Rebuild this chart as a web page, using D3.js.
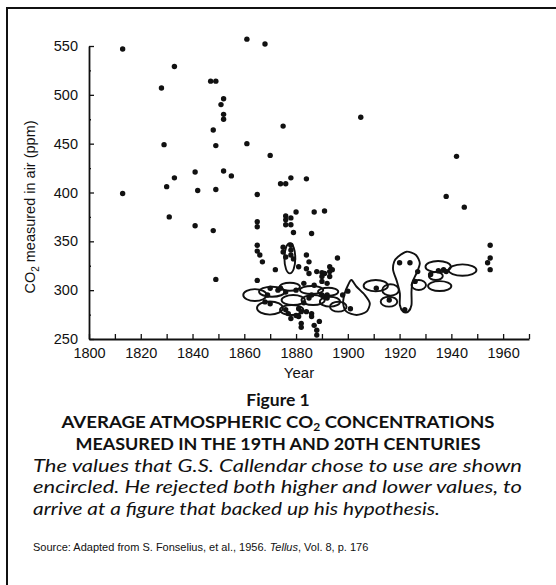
<!DOCTYPE html>
<html>
<head>
<meta charset="utf-8">
<script src="https://d3js.org/d3.v7.min.js"></script>
<style>
body { margin:0; background:#fff; }
svg { display:block; }
.axis text { font-family:"Liberation Sans", Arial, sans-serif; font-size:14.5px; fill:#111; }
.axis path, .axis line { stroke:#111; }
.cap { font-family:Lato, "Open Sans", sans-serif; fill:#111; }
</style>
</head>
<body>
<svg id="chart" width="556" height="585"></svg>
<script>
var yearTicks = [1800, 1820, 1840, 1860, 1880, 1900, 1920, 1940, 1960];
var ppmTicks = [250, 300, 350, 400, 450, 500, 550];

// [year, ppm] values Callendar rejected
var rejected = [
  [1813,547],[1833,529],[1847,514],[1849,514],[1828,507],[1852,496],[1851,490],[1852,480],[1852,475],
  [1848,464],[1829,449],[1849,448],[1841,421],[1833,415],[1830,406],[1842,402],[1849,403],[1813,399],
  [1861,557],[1868,552],[1875,468],[1861,450],[1870,438],[1852,422],[1855,417],[1874,409],[1876,409],
  [1878,415],[1884,414],[1865,398],[1831,375],[1841,366],[1848,361],[1849,311],
  [1880,380],[1887,380],[1891,381],[1876,376],[1876,372],[1876,367],[1878,374],[1878,367],[1879,359],
  [1865,370],[1865,365],[1886,358],[1865,346],[1865,340],[1866,336],[1867,329],[1875,344],[1875,339],
  [1876,334],[1878,346],[1878,341],[1878,336],[1879,332],[1884,336],[1885,329],[1884,322],[1885,317],
  [1872,321],[1881,324],[1896,333],[1893,324],[1893,319],[1893,314],[1894,321],[1888,319],[1890,318],
  [1891,317],[1890,314],[1890,309],[1865,310],[1892,307],[1889,268],[1887,264],[1888,259],[1888,254],
  [1905,477],[1942,437],[1938,396],[1945,385],[1955,346],[1955,333],[1954,328],[1955,321]
];

// [year, ppm] values inside the drawn loops
var chosen = [
  [1869,295],[1868,288],[1870,286],[1873,300],[1874,302],[1876,298],[1880,300],
  [1876,280],[1877,276],[1878,271],[1880,274],[1881,281],[1882,278],[1881,273],[1883,287],[1885,292],
  [1886,295],[1882,266],[1882,262],[1884,278],[1886,276],[1886,273],
  [1870,302],[1883,307],[1887,305],[1890,295],[1891,293],[1892,295],[1892,292],[1898,295],
  [1911,302],[1916,290],[1920,328],[1924,328],[1927,319],[1922,280],[1900,299],[1901,281],[1926,309],
  [1935,320],[1937,321],[1932,316],[1938,319]
];

// loops: [year, ppm, half width in years, half height in ppm]
var loops = [
  [1864.1,295,4.5,6.1],[1870.7,298.4,5.0,5.1],[1869.9,281.7,5.0,6.7],[1877.6,303.5,3.9,4.1],
  [1878.9,289.9,4.5,5.1],[1878.3,279.7,4.5,5.1],[1886,300.2,4.5,4.1],[1886.6,289.9,4.5,5.1],
  [1892.4,298.4,3.9,4.1],[1893.1,288.2,3.9,5.1],[1896.3,283.1,3.2,5.1],[1877.6,332.6,2.1,15.4],
  [1910.8,304.6,4.7,5.8],[1916.5,300.2,3.2,5.8],[1915.9,288.2,3.2,5.1],[1927.4,305.3,2.8,5.1],
  [1934.9,324,4.9,5.8],[1934,314.5,2.7,4.1],[1935.5,304.2,4.5,5.1],[1944.3,320.6,5.4,5.8]
];

// two hand drawn outlines that are not plain ovals
var pear = [[1901.4,310.4],[1903.4,303.5],[1906.6,295],[1908.5,286.5],[1907.2,278],[1903.4,274.6],
  [1899.5,278],[1898.2,286.5],[1898.8,296.8],[1900.1,305.3]];
var balloon = [[1919.4,334.2],[1922.7,339.4],[1926.3,336],[1927.8,327.5],[1926.5,317.2],[1925,308.6],
  [1924.6,298.4],[1924.6,284.8],[1923.3,277.9],[1921.4,277.9],[1920.1,284.8],[1920.1,296.8],
  [1919,308.6],[1917.5,320.6],[1917.9,329.1]];

var captionTitle = "Figure 1";
var captionHead = ["AVERAGE ATMOSPHERIC CO", "2", " CONCENTRATIONS"];
var captionHead2 = "MEASURED IN THE 19TH AND 20TH CENTURIES";
var captionBody = ["The values that G.S. Callendar chose to use are shown",
  "encircled. He rejected both higher and lower values, to",
  "arrive at a figure that backed up his hypothesis."];
var bodyWidths = [489, 489, 407];

var svg = d3.select("#chart");

var x = d3.scaleLinear().domain([1800, 1970]).range([89, 529]);
var y = d3.scaleLinear().domain([250, 550]).range([339, 46]);

// frame (top and left edges only, as in the scan)
svg.append("path")
  .attr("d", "M7,585V8H556")
  .attr("fill", "none")
  .attr("stroke", "#111")
  .attr("stroke-width", 2);

var xAxis = d3.axisBottom(x)
  .tickValues(d3.range(1800, 1971, 10))
  .tickSize(-5)
  .tickSizeOuter(0)
  .tickPadding(9)
  .tickFormat(function(d){ return yearTicks.indexOf(d) >= 0 ? d : ""; });

var gx = svg.append("g")
  .attr("class", "axis")
  .attr("transform", "translate(0," + y(250) + ")")
  .call(xAxis);
gx.select(".domain").attr("stroke-width", 1.8);
gx.selectAll(".tick line").attr("stroke-width", 1.3);

var yAxis = d3.axisLeft(y)
  .tickValues(d3.range(250, 551, 25))
  .tickSize(-4)
  .tickSizeOuter(0)
  .tickPadding(11)
  .tickFormat(function(d){ return ppmTicks.indexOf(d) >= 0 ? d : ""; });

var gy = svg.append("g")
  .attr("class", "axis")
  .attr("transform", "translate(" + x(1800) + ",0)")
  .call(yAxis);
gy.select(".domain").attr("stroke-width", 1.8);
gy.selectAll(".tick line")
  .attr("stroke-width", 1.3)
  .attr("x2", function(d){ return ppmTicks.indexOf(d) >= 0 ? 5 : 2; });

svg.append("text")
  .attr("x", 299)
  .attr("y", 378)
  .attr("text-anchor", "middle")
  .attr("fill", "#111")
  .style("font-family", "'Liberation Sans', Arial, sans-serif")
  .style("font-size", "15px")
  .text("Year");

var ylab = svg.append("text")
  .attr("transform", "translate(35,207) rotate(-90)")
  .attr("text-anchor", "middle")
  .style("font-family", "'Liberation Sans', Arial, sans-serif")
  .style("font-size", "14.5px")
  .attr("fill", "#111");
ylab.append("tspan").text("CO");
ylab.append("tspan").attr("dy", 4).style("font-size", "10px").text("2");
ylab.append("tspan").attr("dy", -4).text(" measured in air (ppm)");

// loops
var line = d3.line()
  .x(function(d){ return x(d[0]); })
  .y(function(d){ return y(d[1]); })
  .curve(d3.curveCardinalClosed.tension(0.2));

svg.append("g").selectAll("ellipse")
  .data(loops).enter().append("ellipse")
  .attr("cx", function(d){ return x(d[0]); })
  .attr("cy", function(d){ return y(d[1]); })
  .attr("rx", function(d){ return x(d[0] + d[2]) - x(d[0]); })
  .attr("ry", function(d){ return y(d[1] - d[3]) - y(d[1]); })
  .attr("fill", "none")
  .attr("stroke", "#111")
  .attr("stroke-width", 1.9);

svg.append("g").selectAll("path")
  .data([pear, balloon]).enter().append("path")
  .attr("d", line)
  .attr("fill", "none")
  .attr("stroke", "#111")
  .attr("stroke-width", 1.9);

svg.append("g").selectAll("circle")
  .data(rejected.concat(chosen)).enter().append("circle")
  .attr("cx", function(d){ return x(d[0]); })
  .attr("cy", function(d){ return y(d[1]); })
  .attr("r", 2.7)
  .attr("fill", "#111");

// caption
svg.append("text")
  .attr("class", "cap")
  .attr("x", 278).attr("y", 406)
  .attr("text-anchor", "middle")
  .style("font-size", "17.5px").style("font-weight", "bold")
  .text(captionTitle);

var head = svg.append("text")
  .attr("class", "cap")
  .attr("x", 278).attr("y", 428)
  .attr("text-anchor", "middle")
  .attr("textLength", 433)
  .attr("lengthAdjust", "spacingAndGlyphs")
  .style("font-size", "17px").style("font-weight", "bold");
head.append("tspan").text(captionHead[0]);
head.append("tspan").attr("dy", 3).style("font-size", "11px").text(captionHead[1]);
head.append("tspan").attr("dy", -3).text(captionHead[2]);

svg.append("text")
  .attr("class", "cap")
  .attr("x", 278).attr("y", 450)
  .attr("text-anchor", "middle")
  .attr("textLength", 405)
  .attr("lengthAdjust", "spacingAndGlyphs")
  .style("font-size", "17px").style("font-weight", "bold")
  .text(captionHead2);

svg.selectAll(".body")
  .data(captionBody).enter().append("text")
  .attr("class", "cap body")
  .attr("x", 33)
  .attr("y", function(d, i){ return 471.5 + i * 21.5; })
  .attr("textLength", function(d, i){ return bodyWidths[i]; })
  .attr("lengthAdjust", "spacingAndGlyphs")
  .style("font-size", "17.5px").style("font-style", "italic")
  .text(function(d){ return d; });

var src = svg.append("text")
  .attr("x", 33).attr("y", 551)
  .style("font-family", "'Liberation Sans', Arial, sans-serif")
  .style("font-size", "11px")
  .attr("fill", "#111");
src.append("tspan").text("Source: Adapted from S. Fonselius, et al., 1956. ");
src.append("tspan").style("font-style", "italic").text("Tellus");
src.append("tspan").text(", Vol. 8, p. 176");
</script>
</body>
</html>
